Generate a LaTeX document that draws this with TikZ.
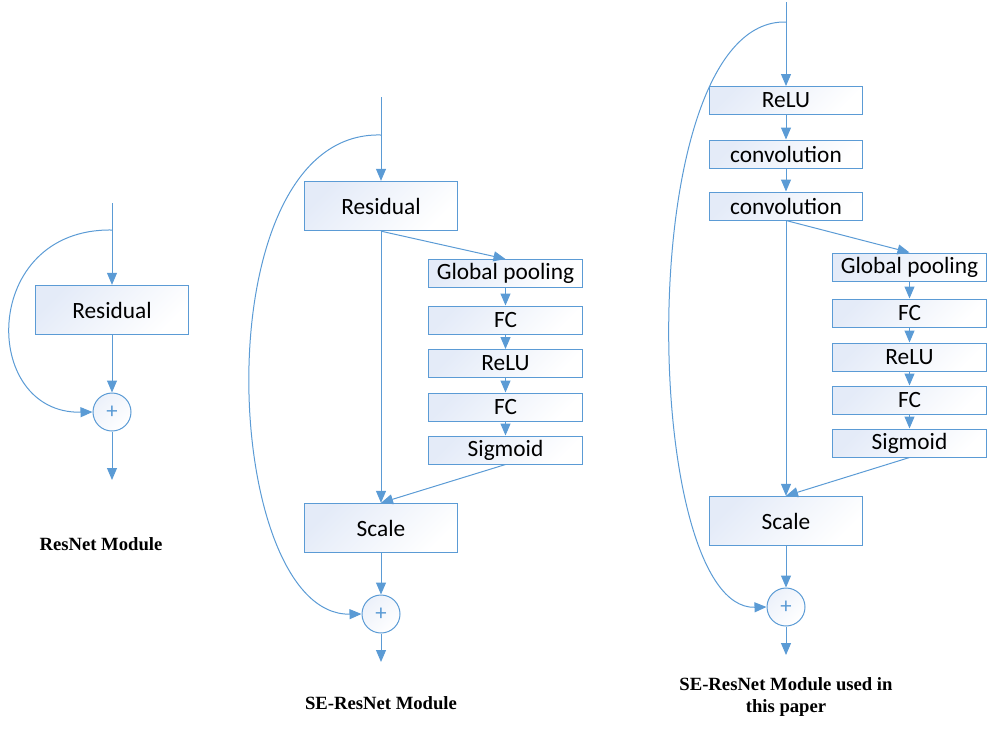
\documentclass[tikz,border=0pt]{standalone}
\usepackage{fontspec}
\setmainfont{Liberation Serif}
\newfontfamily\boxfont{Carlito}
\usepackage{tikz}
\usetikzlibrary{arrows.meta}
\definecolor{lineblue}{RGB}{91,155,213}
\definecolor{fillblue}{RGB}{228,235,248}

\begin{document}
\begin{tikzpicture}[x=0.75pt,y=-0.75pt,
	box/.style={draw=lineblue,line width=0.75pt,
		top color=fillblue,bottom color=white,shading angle=45,
		minimum width=115pt,minimum height=37pt,inner sep=0pt,
		font=\boxfont\fontsize{17.5}{20}\selectfont},
	smallbox/.style={box,minimum height=21pt},
	sumnode/.style={circle,draw=lineblue,line width=0.75pt,
		top color=fillblue!70,bottom color=white,shading angle=45,
		minimum size=28.5pt,inner sep=0pt,text=lineblue,font=\boxfont\fontsize{17}{17}\selectfont},
	arr/.style={draw=lineblue,line width=0.75pt,-{Triangle[length=9pt,width=7.5pt]}},
	caption/.style={font=\bfseries\fontsize{14}{16.5}\selectfont,align=center}]
	\useasboundingbox (0,0) rectangle (995,729);
	% ResNet module
	\coordinate (in1) at (112,203);
	\coordinate (br1) at (112,230);
	\node [box] (res1) at (112,310) {Residual};
	\node [sumnode] (sum1) at (112,412) {+};
	\coordinate (out1) at (112,480);
	\draw [arr] (in1) -- (res1);
	\draw [arr] (res1) -- (sum1);
	\draw [arr] (sum1) -- (out1);
	\draw [arr] (br1) .. controls (-20,228) and (-20,414) .. (sum1.west);
	\node [caption] (cap1) at (101,544) {ResNet Module};
	% SE-ResNet module
	\coordinate (in2) at (381,97);
	\coordinate (br2) at (381,135);
	\node [box] (res2) at (381,206) {Residual};
	\node [smallbox] (gp2) at (505.5,273.5) {Global pooling};
	\node [smallbox] (fca2) at (505.5,320) {FC};
	\node [smallbox] (relu2) at (505.5,363.5) {ReLU};
	\node [smallbox] (fcb2) at (505.5,407) {FC};
	\node [smallbox] (sig2) at (505.5,450) {Sigmoid};
	\node [box] (scale2) at (381,528) {Scale};
	\node [sumnode] (sum2) at (381,614) {+};
	\coordinate (out2) at (381,662);
	\draw [arr] (in2) -- (res2);
	\draw [arr] (res2.south) -- (gp2.north);
	\draw [arr] (gp2) -- (fca2);
	\draw [arr] (fca2) -- (relu2);
	\draw [arr] (relu2) -- (fcb2);
	\draw [arr] (fcb2) -- (sig2);
	\draw [arr] (res2.south) -- (scale2.north);
	\draw [arr] (sig2.south) -- (scale2.north);
	\draw [arr] (scale2) -- (sum2);
	\draw [arr] (sum2) -- (out2);
	\draw [arr] (br2) .. controls (200,130) and (220,616) .. (sum2.west);
	\node [caption] (cap2) at (381,703) {SE-ResNet Module};
	% SE-ResNet module used in this paper
	\coordinate (in3) at (786,2);
	\coordinate (br3) at (786,22);
	\node [smallbox] (relu3) at (786,100.5) {ReLU};
	\node [smallbox] (conva3) at (786,154) {convolution};
	\node [smallbox] (convb3) at (786,206) {convolution};
	\node [smallbox] (gp3) at (909.5,267) {Global pooling};
	\node [smallbox] (fca3) at (909.5,313) {FC};
	\node [smallbox] (reluf3) at (909.5,357) {ReLU};
	\node [smallbox] (fcb3) at (909.5,400) {FC};
	\node [smallbox] (sig3) at (909.5,443) {Sigmoid};
	\node [box] (scale3) at (786,521) {Scale};
	\node [sumnode] (sum3) at (786,607) {+};
	\coordinate (out3) at (786,655);
	\draw [arr] (in3) -- (relu3);
	\draw [arr] (relu3) -- (conva3);
	\draw [arr] (conva3) -- (convb3);
	\draw [arr] (convb3.south) -- (gp3.north);
	\draw [arr] (gp3) -- (fca3);
	\draw [arr] (fca3) -- (reluf3);
	\draw [arr] (reluf3) -- (fcb3);
	\draw [arr] (fcb3) -- (sig3);
	\draw [arr] (convb3.south) -- (scale3.north);
	\draw [arr] (sig3.south) -- (scale3.north);
	\draw [arr] (scale3) -- (sum3);
	\draw [arr] (sum3) -- (out3);
	\draw [arr] (br3) .. controls (630,18) and (640,610) .. (sum3.west);
	\node [caption] (cap3) at (786,697) {SE-ResNet Module used in\\this paper};
\end{tikzpicture}
\end{document}
